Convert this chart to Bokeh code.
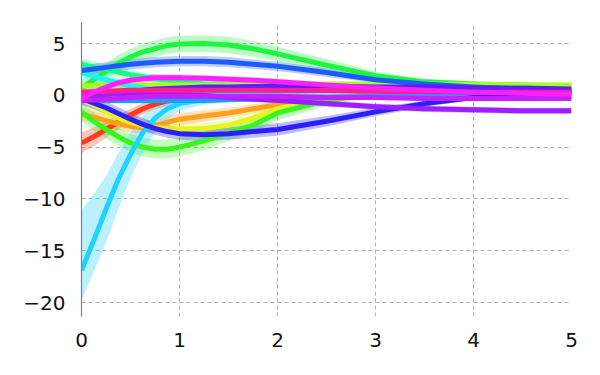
from bokeh.plotting import figure
from bokeh.models import Range1d, FixedTicker
from bokeh.embed import file_html
from bokeh.resources import INLINE

X = [0, 0.125, 0.25, 0.375, 0.5, 0.625, 0.75, 0.875, 1, 1.25, 1.5, 1.75, 2, 2.5, 3, 3.5, 4, 4.5, 5]

red = [-4.6, -4.0, -3.3, -2.6, -1.9, -1.3, -0.85, -0.55, -0.35, -0.05, 0.15, 0.3, 0.4, 0.5, 0.5, 0.45, 0.4, 0.35, 0.3]
red_hw = [1.0, 0.9, 0.8, 0.7, 0.6, 0.55, 0.5, 0.45, 0.4, 0.35, 0.3, 0.3, 0.3, 0.25, 0.2, 0.2, 0.2, 0.2, 0.2]
orange = [-1.8, -2.1, -2.45, -2.75, -3.0, -3.1, -2.95, -2.6, -2.3, -2.0, -1.7, -1.3, -0.9, -0.4, 0.0, 0.2, 0.3, 0.3, 0.3]
orange_hw = [0.6, 0.6, 0.6, 0.6, 0.6, 0.6, 0.6, 0.6, 0.6, 0.55, 0.5, 0.45, 0.4, 0.3, 0.25, 0.2, 0.2, 0.2, 0.2]
yellow = [-0.3, -0.9, -1.6, -2.2, -2.6, -2.9, -3.1, -3.2, -3.25, -3.2, -2.9, -2.2, -1.3, -0.3, 0.2, 0.4, 0.5, 0.5, 0.5]
yellow_hw = [0.6, 0.6, 0.6, 0.6, 0.6, 0.6, 0.6, 0.6, 0.6, 0.6, 0.6, 0.55, 0.5, 0.4, 0.3, 0.2, 0.2, 0.2, 0.2]
green_lo = [-1.6, -2.5, -3.3, -4.0, -4.6, -5.0, -5.2, -5.2, -5.0, -4.4, -3.6, -2.9, -1.7, -0.5, 0.2, 0.4, 0.5, 0.5, 0.5]
green_lo_hw = [0.9, 0.9, 0.9, 0.9, 0.9, 0.9, 0.9, 0.9, 0.9, 0.9, 0.8, 0.75, 0.7, 0.5, 0.3, 0.2, 0.2, 0.2, 0.2]
green_up = [0.7, 1.5, 2.3, 3.1, 3.7, 4.2, 4.5, 4.8, 4.95, 5.0, 4.85, 4.5, 4.0, 2.9, 1.9, 1.3, 1.1, 1.0, 0.9]
green_up_hw = [0.8, 0.8, 0.8, 0.8, 0.8, 0.8, 0.8, 0.8, 0.8, 0.8, 0.8, 0.75, 0.7, 0.6, 0.4, 0.3, 0.2, 0.2, 0.2]
spring = [3.0, 2.75, 2.5, 2.25, 2.0, 1.8, 1.6, 1.45, 1.3, 1.1, 1.0, 0.95, 0.9, 0.8, 0.6, 0.5, 0.4, 0.3, 0.3]
spring_hw = [0.5, 0.5, 0.5, 0.45, 0.45, 0.4, 0.4, 0.4, 0.4, 0.35, 0.3, 0.3, 0.3, 0.25, 0.2, 0.2, 0.2, 0.2, 0.2]
lime = [0.9, 0.95, 1.0, 1.0, 1.0, 1.0, 1.0, 1.0, 1.0, 1.0, 1.0, 1.0, 1.05, 1.1, 1.1, 1.1, 1.05, 1.0, 1.0]
lime_hw = [0.3, 0.3, 0.3, 0.25, 0.25, 0.25, 0.25, 0.2, 0.2, 0.2, 0.2, 0.2, 0.2, 0.2, 0.2, 0.2, 0.2, 0.2, 0.2]
cyan = [2.2, 1.85, 1.5, 1.2, 0.9, 0.7, 0.5, 0.4, 0.3, 0.2, 0.1, 0.05, 0.0, -0.1, -0.1, -0.1, -0.1, -0.1, -0.1]
cyan_hw = [0.5, 0.5, 0.45, 0.45, 0.4, 0.4, 0.35, 0.35, 0.3, 0.3, 0.25, 0.25, 0.25, 0.2, 0.2, 0.2, 0.2, 0.2, 0.2]
sky = [-16.9, -14.0, -11.0, -8.1, -5.7, -3.6, -2.2, -1.3, -0.8, -0.4, -0.3, -0.25, -0.2, -0.2, -0.2, -0.2, -0.2, -0.2, -0.2]
sky_lo = [-19.8, -17.0, -14.2, -11.0, -8.0, -5.5, -3.6, -2.3, -1.5, -0.9, -0.7, -0.6, -0.5, -0.4, -0.4, -0.4, -0.4, -0.4, -0.4]
sky_hi = [-11.1, -9.5, -7.8, -5.6, -3.6, -2.0, -1.0, -0.5, -0.2, 0.0, 0.1, 0.1, 0.1, 0.0, 0.0, 0.0, 0.0, 0.0, 0.0]
azure = [-0.4, -0.45, -0.5, -0.5, -0.5, -0.5, -0.5, -0.5, -0.5, -0.5, -0.4, -0.35, -0.3, -0.2, -0.1, 0.0, 0.0, 0.0, 0.0]
azure_hw = [0.3, 0.3, 0.3, 0.3, 0.3, 0.3, 0.3, 0.3, 0.3, 0.3, 0.25, 0.25, 0.25, 0.2, 0.2, 0.2, 0.2, 0.2, 0.2]
royal = [2.4, 2.55, 2.7, 2.85, 3.0, 3.1, 3.2, 3.25, 3.3, 3.3, 3.2, 3.0, 2.8, 2.2, 1.5, 1.1, 0.8, 0.6, 0.5]
royal_hw = [0.5, 0.5, 0.5, 0.5, 0.5, 0.5, 0.5, 0.5, 0.5, 0.5, 0.5, 0.45, 0.45, 0.4, 0.3, 0.25, 0.2, 0.2, 0.2]
blue = [-0.3, -0.75, -1.2, -1.75, -2.3, -2.8, -3.2, -3.5, -3.7, -3.8, -3.7, -3.5, -3.3, -2.5, -1.6, -0.8, -0.2, 0.2, 0.4]
blue_hw = [0.6, 0.6, 0.6, 0.6, 0.6, 0.6, 0.6, 0.6, 0.6, 0.6, 0.6, 0.6, 0.6, 0.5, 0.4, 0.3, 0.25, 0.2, 0.2]
indigo = [-0.3, -0.1, 0.1, 0.25, 0.4, 0.5, 0.6, 0.65, 0.7, 0.8, 0.8, 0.85, 0.9, 0.9, 0.8, 0.8, 0.7, 0.7, 0.6]
indigo_hw = [0.3, 0.3, 0.3, 0.3, 0.3, 0.3, 0.3, 0.3, 0.3, 0.3, 0.25, 0.25, 0.25, 0.2, 0.2, 0.2, 0.2, 0.2, 0.2]
purple = [0.0, 0.05, 0.1, 0.15, 0.2, 0.2, 0.2, 0.15, 0.1, 0.0, -0.2, -0.35, -0.5, -0.8, -1.1, -1.3, -1.4, -1.5, -1.5]
purple_hw = [0.3, 0.3, 0.3, 0.3, 0.3, 0.3, 0.3, 0.3, 0.3, 0.3, 0.3, 0.3, 0.3, 0.3, 0.3, 0.3, 0.3, 0.3, 0.3]
violet = [-0.5, -0.45, -0.4, -0.3, -0.2, -0.15, -0.1, -0.1, -0.1, -0.1, -0.1, -0.1, -0.1, -0.2, -0.2, -0.3, -0.3, -0.3, -0.3]
violet_hw = [0.3, 0.3, 0.3, 0.3, 0.3, 0.3, 0.3, 0.25, 0.25, 0.25, 0.25, 0.2, 0.2, 0.2, 0.2, 0.2, 0.2, 0.2, 0.2]
pink = [0.3, 0.35, 0.4, 0.45, 0.5, 0.5, 0.5, 0.5, 0.5, 0.5, 0.5, 0.5, 0.5, 0.45, 0.4, 0.35, 0.3, 0.3, 0.3]
pink_hw = [0.3, 0.3, 0.3, 0.3, 0.3, 0.25, 0.25, 0.25, 0.25, 0.25, 0.2, 0.2, 0.2, 0.2, 0.2, 0.2, 0.2, 0.2, 0.2]
magenta = [-0.3, 0.3, 0.8, 1.2, 1.45, 1.6, 1.7, 1.7, 1.7, 1.65, 1.55, 1.45, 1.3, 1.0, 0.7, 0.5, 0.3, 0.2, 0.1]
magenta_hw = [0.4, 0.4, 0.4, 0.35, 0.35, 0.35, 0.35, 0.3, 0.3, 0.3, 0.3, 0.3, 0.3, 0.25, 0.2, 0.2, 0.2, 0.2, 0.2]

def band(mean, hw):
    return [m - h for m, h in zip(mean, hw)], [m + h for m, h in zip(mean, hw)]

series = [
    ("#ff3b1f", red, *band(red, red_hw)),
    ("#ffa01f", orange, *band(orange, orange_hw)),
    ("#e2f51f", yellow, *band(yellow, yellow_hw)),
    ("#38f51f", green_lo, *band(green_lo, green_lo_hw)),
    ("#1ff540", green_up, *band(green_up, green_up_hw)),
    ("#1ff58f", spring, *band(spring, spring_hw)),
    ("#a6ff1f", lime, *band(lime, lime_hw)),
    ("#1ff0f0", cyan, *band(cyan, cyan_hw)),
    ("#1fd2ff", sky, sky_lo, sky_hi),
    ("#1f9cff", azure, *band(azure, azure_hw)),
    ("#1f5aff", royal, *band(royal, royal_hw)),
    ("#2b1fff", blue, *band(blue, blue_hw)),
    ("#5a1fff", indigo, *band(indigo, indigo_hw)),
    ("#9b1fff", purple, *band(purple, purple_hw)),
    ("#c71fff", violet, *band(violet, violet_hw)),
    ("#ff1f8f", pink, *band(pink, pink_hw)),
    ("#ff1fff", magenta, *band(magenta, magenta_hw)),
]

p = figure(width=600, height=375, output_backend="svg", toolbar_location=None,
           x_range=Range1d(0, 5), y_range=Range1d(-21.35, 7.03),
           min_border_left=81, min_border_right=29, min_border_top=22, min_border_bottom=59)
p.outline_line_color = None
p.background_fill_color = "white"

for color, mean, lo, hi in series:
    p.varea(x=X, y1=lo, y2=hi, fill_color=color, fill_alpha=0.3)
for color, mean, lo, hi in series:
    p.line(X, mean, line_color=color, line_width=5, line_join="round")

p.xaxis.ticker = FixedTicker(ticks=[0, 1, 2, 3, 4, 5])
p.yaxis.ticker = FixedTicker(ticks=[-20, -15, -10, -5, 0, 5])
for ax in (p.xaxis, p.yaxis):
    ax.major_tick_out = 0
    ax.major_tick_in = 0
    ax.minor_tick_out = 0
    ax.minor_tick_in = 0
    ax.major_label_text_font = "DejaVu Sans"
    ax.major_label_text_font_size = "20px"
    ax.major_label_text_color = "#111111"
p.xaxis.major_label_standoff = 16
p.yaxis.major_label_standoff = 16
p.xaxis.axis_line_color = None
p.yaxis.axis_line_color = "#808080"
p.yaxis.axis_line_width = 1.2

for g in (p.xgrid, p.ygrid):
    g.grid_line_color = "#b0b0b0"
    g.grid_line_dash = "4 3"
    g.grid_line_width = 1

open("out.html", "w").write(file_html(p, INLINE))
